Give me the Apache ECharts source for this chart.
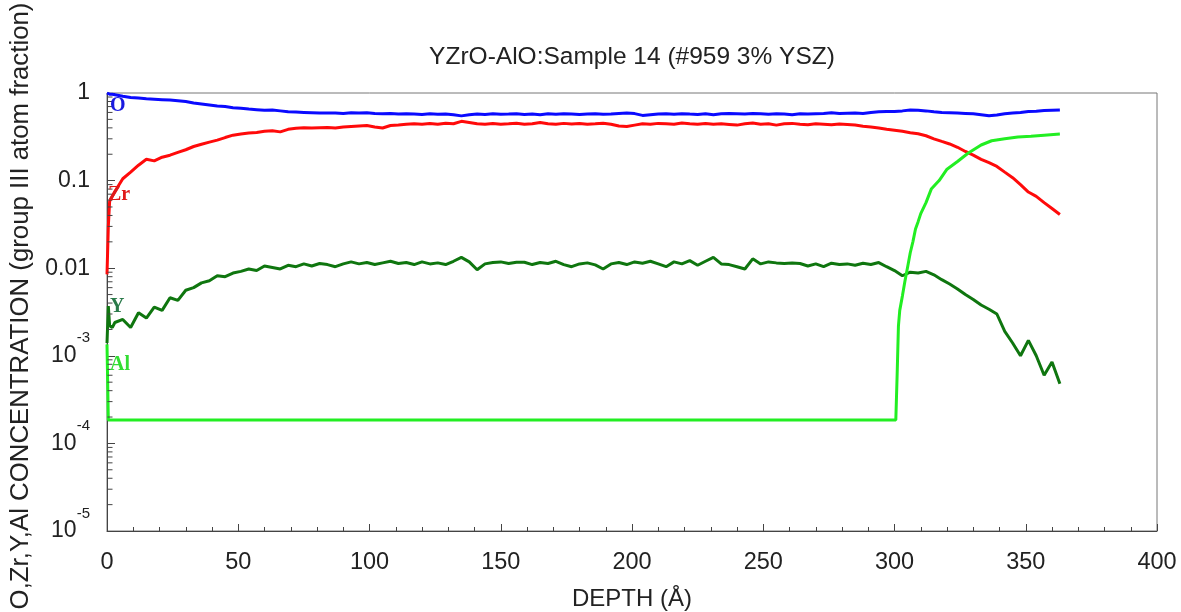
<!DOCTYPE html>
<html><head><meta charset="utf-8">
<script src="https://cdn.jsdelivr.net/npm/echarts@6/dist/echarts.min.js"></script>
<style>html,body{margin:0;padding:0;background:#fff}#c{width:1181px;height:612px}</style>
</head><body><div id="c"></div>
<script>
const chartTitle = 'YZrO-AlO:Sample 14 (#959 3% YSZ)';
const xAxisTitle = 'DEPTH (Å)';
const yAxisTitle = 'O,Zr,Y,Al CONCENTRATION (group III atom fraction)';
const seriesNames = ['O', 'Zr', 'Y', 'Al'];
const seriesColors = ['#0a0aff', '#ff0a0a', '#0f760f', '#22ee22'];
const labelColors = ['#1a1ae0', '#e01a1a', '#2a7a4a', '#33dd33'];
const xTickValues = [0, 50, 100, 150, 200, 250, 300, 350, 400];
const yDecadeLabels = {'0': '1', '-1': '0.1', '-2': '0.01'};

const depth = [0,0.5,1,2,
 3,6,9,12,15,18,21,24,27,30,
 33,36,39,42,45,48,51,54,57,60,
 63,66,69,72,75,78,81,84,87,90,
 93,96,99,102,105,108,111,114,117,120,
 123,126,129,132,135,138,141,144,147,150,
 153,156,159,162,165,168,171,174,177,180,
 183,186,189,192,195,198,201,204,207,210,
 213,216,219,222,225,228,231,234,237,240,
 243,246,249,252,255,258,261,264,267,270,
 273,276,279,282,285,288,291,294,297,300,
 303,306,309,312,315,318,321,324,327,330,
 333,336,339,342,345,348,351,354,357,360,
 363];

const oxygen = [1.0,0.985,0.97,0.965,
 0.955,0.92,0.89,0.875,0.86,0.85,0.84,0.83,0.815,0.80,
 0.77,0.75,0.73,0.71,0.70,0.68,0.67,0.655,0.645,0.635,
 0.64,0.625,0.61,0.605,0.60,0.595,0.59,0.59,0.592,0.585,
 0.595,0.59,0.596,0.585,0.58,0.585,0.575,0.58,0.575,0.57,
 0.578,0.572,0.575,0.566,0.548,0.565,0.575,0.57,0.578,0.572,
 0.575,0.58,0.57,0.576,0.566,0.578,0.572,0.58,0.574,0.568,
 0.575,0.58,0.572,0.576,0.585,0.59,0.582,0.555,0.565,0.575,
 0.578,0.572,0.58,0.574,0.57,0.578,0.566,0.58,0.585,0.58,
 0.575,0.585,0.58,0.572,0.578,0.575,0.565,0.578,0.575,0.58,
 0.585,0.595,0.585,0.588,0.59,0.585,0.6,0.61,0.615,0.615,
 0.625,0.64,0.635,0.625,0.61,0.6,0.595,0.59,0.585,0.58,
 0.565,0.55,0.56,0.58,0.59,0.6,0.615,0.62,0.63,0.635,
 0.64];

const zirconium = [0.0085,0.03,0.058,0.066,
 0.075,0.105,0.125,0.15,0.175,0.168,0.185,0.195,0.21,0.225,
 0.245,0.26,0.275,0.29,0.31,0.33,0.34,0.35,0.355,0.365,
 0.37,0.36,0.385,0.395,0.40,0.398,0.402,0.405,0.398,0.41,
 0.415,0.42,0.425,0.41,0.398,0.425,0.432,0.44,0.445,0.44,
 0.448,0.44,0.452,0.445,0.475,0.46,0.445,0.44,0.448,0.44,
 0.445,0.452,0.44,0.445,0.46,0.445,0.44,0.45,0.442,0.448,
 0.44,0.445,0.452,0.44,0.42,0.415,0.43,0.445,0.44,0.45,
 0.445,0.44,0.455,0.445,0.44,0.448,0.44,0.445,0.438,0.43,
 0.445,0.455,0.44,0.445,0.43,0.445,0.45,0.44,0.435,0.445,
 0.44,0.435,0.442,0.438,0.432,0.418,0.41,0.398,0.385,0.375,
 0.365,0.352,0.342,0.325,0.30,0.28,0.262,0.24,0.215,0.195,
 0.175,0.16,0.145,0.125,0.108,0.09,0.074,0.066,0.056,0.048,
 0.041];

const yttrium = [0.0014,0.0037,0.0022,0.0021,
 0.0024,0.0026,0.0021,0.0031,0.0027,0.0036,0.0033,0.0046,0.0043,0.0056,
 0.0060,0.0068,0.0072,0.0082,0.0080,0.0088,0.0092,0.0098,0.0094,0.0106,
 0.0102,0.0098,0.0108,0.0104,0.0112,0.0106,0.0113,0.0110,0.0104,0.0112,
 0.0118,0.0112,0.0116,0.0110,0.0115,0.0120,0.0113,0.0116,0.0110,0.0118,
 0.0112,0.0115,0.0110,0.0120,0.0133,0.0118,0.0096,0.0112,0.0116,0.0118,
 0.0113,0.0117,0.0117,0.0110,0.0116,0.0113,0.0120,0.0110,0.0104,0.0112,
 0.0115,0.0109,0.0098,0.0112,0.0116,0.0110,0.0118,0.0114,0.0120,0.0112,
 0.0104,0.0118,0.0112,0.0122,0.0108,0.0120,0.0133,0.0112,0.0110,0.0104,
 0.0098,0.0128,0.0112,0.0118,0.0115,0.0113,0.0115,0.0113,0.0106,0.0112,
 0.0104,0.0114,0.0110,0.0112,0.0108,0.0114,0.0110,0.0116,0.0104,0.0094,
 0.0082,0.0090,0.0088,0.0092,0.0084,0.0074,0.0066,0.0058,0.0050,0.0044,
 0.0038,0.0034,0.0030,0.0019,0.0014,0.0010,0.0015,0.0010,0.00060,0.00085,
 0.00048];

const alDepth = [0,0.5,300.5,301,301.5,302,303,304,305,306,307,308,309,310,312,314,317,320,324,328,333,337,342,347,352,357,363];
const aluminum = [0.00135,0.000185,0.000185,0.0006,0.0022,0.0033,0.0048,0.0072,0.0103,0.015,0.02,0.028,0.034,0.042,0.056,0.08,0.10,0.135,0.165,0.205,0.255,0.285,0.30,0.315,0.32,0.33,0.34];

// log-axis minor tick positions (2..9 within each decade)
const minorMultipliers = [2,3,4,5,6,7,8,9];
const decadeStarts = [1e-5,1e-4,1e-3,1e-2,1e-1];
const minorTickValues = [];
decadeStarts.forEach(d => minorMultipliers.forEach(m => minorTickValues.push(+(d * m).toPrecision(3))));

const zip = (xs, ys) => xs.map((x, i) => [x, ys[i]]);
const profiles = [zip(depth, oxygen), zip(depth, zirconium), zip(depth, yttrium), zip(alDepth, aluminum)];

const chart = echarts.init(document.getElementById('c'), null, {renderer: 'canvas'});
const txt = '#222';
const axisCol = '#444';
const sansFont = 'Liberation Sans, Arial, sans-serif';

const lineSeries = profiles.map((data, i) => ({
  name: seriesNames[i], type: 'line', data: data, showSymbol: false, symbol: 'none',
  lineStyle: {color: seriesColors[i], width: 3}, itemStyle: {color: seriesColors[i]},
  z: 3 + i, animation: false, clip: true
}));

const labelTops = [107, 196, 308, 366];
const labelLefts = [110, 108, 110, 110];

chart.setOption({
  backgroundColor: '#fff',
  animation: false,
  title: {
    text: chartTitle, left: 627, top: 40, textAlign: 'center',
    textStyle: {fontFamily: sansFont, fontSize: 24.5, fontWeight: 'normal', color: txt}
  },
  grid: {left: 107, right: 24, top: 93, bottom: 81, show: true, borderColor: '#777', borderWidth: 1,
    backgroundColor: 'transparent', containLabel: false, outerBoundsMode: 'none'},
  xAxis: {
    type: 'value', min: 0, max: 400, interval: 50,
    name: xAxisTitle, nameLocation: 'middle', nameGap: 56,
    nameTextStyle: {fontFamily: sansFont, fontSize: 24, color: txt},
    axisLine: {show: true, lineStyle: {color: axisCol, width: 1}},
    axisTick: {show: true, inside: true, length: 7, lineStyle: {color: axisCol}},
    minorTick: {show: true, splitNumber: 5, length: 4, lineStyle: {color: axisCol}},
    splitLine: {show: false},
    axisLabel: {fontFamily: sansFont, fontSize: 23.5, color: txt, margin: 20,
      formatter: v => xTickValues.indexOf(v) >= 0 ? String(v) : ''}
  },
  yAxis: {
    type: 'log', logBase: 10, min: 1e-5, max: 1,
    name: yAxisTitle, nameLocation: 'middle', nameGap: 72,
    nameTextStyle: {fontFamily: sansFont, fontSize: 25.8, color: txt, padding: [0, 0, 0, 12]},
    axisLine: {show: true, lineStyle: {color: axisCol, width: 1}},
    axisTick: {show: true, inside: true, length: 8, lineStyle: {color: axisCol}},
    splitLine: {show: false},
    axisLabel: {
      fontFamily: sansFont, fontSize: 23, color: txt, margin: 17,
      formatter: function (v) {
        const e = Math.round(Math.log10(v));
        if (yDecadeLabels[String(e)] !== undefined) return yDecadeLabels[String(e)];
        return '{b|10}{s|' + e + '}';
      },
      rich: {
        b: {fontFamily: sansFont, fontSize: 23, color: txt, lineHeight: 50},
        s: {fontFamily: sansFont, fontSize: 15, color: txt, lineHeight: 14, verticalAlign: 'top'}
      }
    }
  },
  series: lineSeries.concat([{
    type: 'scatter', name: 'minorTicks', silent: true, clip: false, z: 10,
    data: minorTickValues.map(v => [0, v]),
    symbol: 'rect', symbolSize: [5, 1], symbolOffset: [3, 0],
    itemStyle: {color: axisCol, opacity: 1},
    emphasis: {disabled: true}
  }]),
  graphic: seriesNames.map((n, i) => ({
    type: 'text', left: labelLefts[i], top: labelTops[i] - 11, z: 100,
    style: {text: n, fill: labelColors[i], font: 'bold 20px "Liberation Serif", "Times New Roman", serif'}
  }))
});
</script>
</body></html>
